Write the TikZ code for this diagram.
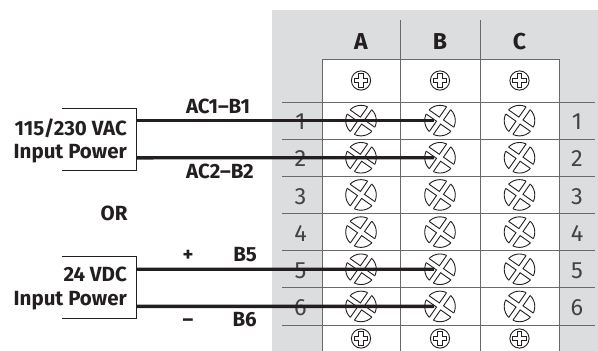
\documentclass[tikz,border=0pt]{standalone}
\usepackage{fontspec}
\setmainfont{Fira Sans}
\definecolor{ink}{RGB}{35,31,32}
\definecolor{panel}{RGB}{220,221,222}
\definecolor{gridc}{RGB}{105,105,108}
\newcommand{\crosspath}[2]{(#1,#1) -- (#2,#1) -- (#2,-#1) -- (#1,-#1) -- (#1,-#2) -- (-#1,-#2) -- (-#1,-#1) -- (-#2,-#1) -- (-#2,#1) -- (-#1,#1) -- (-#1,#2) -- (#1,#2) -- cycle}
\tikzset{
  lbl/.style={font=\bfseries\fontsize{20.5}{22}\selectfont, text=ink, inner sep=0pt},
  hdr/.style={font=\bfseries\fontsize{23}{25}\selectfont, text=ink, inner sep=0pt, anchor=base},
  num/.style={font=\fontsize{23.5}{25}\selectfont, text=ink!85, inner sep=0pt, anchor=base},
  gridline/.style={draw=gridc, line width=1pt},
  wire/.style={draw=ink, line width=3.4pt},
  bracket/.style={draw=ink, line width=0.9pt},
  scw/.style={draw=ink, line width=0.9pt},
  bigscrew/.pic={
    \draw[scw] (0,0) circle (15.3);
    \begin{scope}
      \clip (0,0) circle (16.4);
      \fill[white, rotate=55] \crosspath{2.5}{18};
    \end{scope}
    \begin{scope}
      \clip (0,0) circle (15.3);
      \draw[scw, rotate=55] \crosspath{2.5}{18};
    \end{scope}
  },
  smallscrew/.pic={
    \draw[scw] (0,0) circle (9.6);
    \draw[scw] \crosspath{2.1}{6.6};
  }
}
\begin{document}
\begin{tikzpicture}[x=1pt,y=-1pt]
\useasboundingbox (0,0) rectangle (598,351);
% panel and table
\fill[panel] (272,10) rectangle (598,351);
\fill[white] (322,59) rectangle (559,351);
\draw[gridline] (322,351) -- (322,59) -- (559,59) -- (559,351);
\foreach \x in {400,480} \draw[gridline] (\x,20) -- (\x,351);
\foreach \i in {0,...,6} \draw[gridline] (282,{102+37.1667*\i}) -- (595,{102+37.1667*\i});
% headers
\node[hdr] (hA) at (361,49) {A};
\node[hdr] (hB) at (440,49) {B};
\node[hdr] (hC) at (519.5,49) {C};
% row numbers
\foreach \i in {1,...,6} {
  \node[num] (nl\i) at (300.5,{120.6+37.1667*(\i-1)+9.2}) {\i};
  \node[num] (nr\i) at (577,{120.6+37.1667*(\i-1)+9.2}) {\i};
}
% screws
\foreach \c/\x in {A/361,B/440,C/519.5} {
  \pic at (\x,80.5) {smallscrew};
  \pic at (\x,338.5) {smallscrew};
  \foreach \i in {1,...,6} {
    \coordinate (s\c\i) at (\x,{120.6+37.1667*(\i-1)});
    \pic at (s\c\i) {bigscrew};
  }
}
% power source brackets
\draw[bracket] (62,108) -- (136,108) -- (136,170) -- (62,170);
\draw[bracket] (62,256) -- (136,256) -- (136,318) -- (62,318);
\coordinate (ac1) at (136,120.6);
\coordinate (ac2) at (136,157.8);
\coordinate (dcp) at (136,269.2);
\coordinate (dcm) at (136,306.4);
% wires
\draw[wire] (ac1) -- ([xshift=-6pt]sB1);
\draw[wire] (ac2) -- ([xshift=-6pt]sB2);
\draw[wire] (dcp) -- ([xshift=-6pt]sB5);
\draw[wire] (dcm) -- ([xshift=-6pt]sB6);
% labels
\node[lbl, anchor=base east] (vac) at (127,135) {115/230 VAC};
\node[lbl, anchor=base east] (vacip) at (127,158) {Input Power};
\node[lbl, anchor=base] (ac1l) at (218,113) {AC1–B1};
\node[lbl, anchor=base] (ac2l) at (220,178) {AC2–B2};
\node[lbl, anchor=base] (orl) at (114,220) {OR};
\node[lbl, anchor=base east] (vdc) at (127,281) {24 VDC};
\node[lbl, anchor=base east] (vdcip) at (127,305) {Input Power};
\node[lbl, anchor=base] (plusl) at (188,261) {+};
\node[lbl, anchor=base east] (b5) at (257,261) {B5};
\node[lbl, anchor=base] (minusl) at (188,326) {–};
\node[lbl, anchor=base east] (b6) at (257,326) {B6};
\end{tikzpicture}
\end{document}
